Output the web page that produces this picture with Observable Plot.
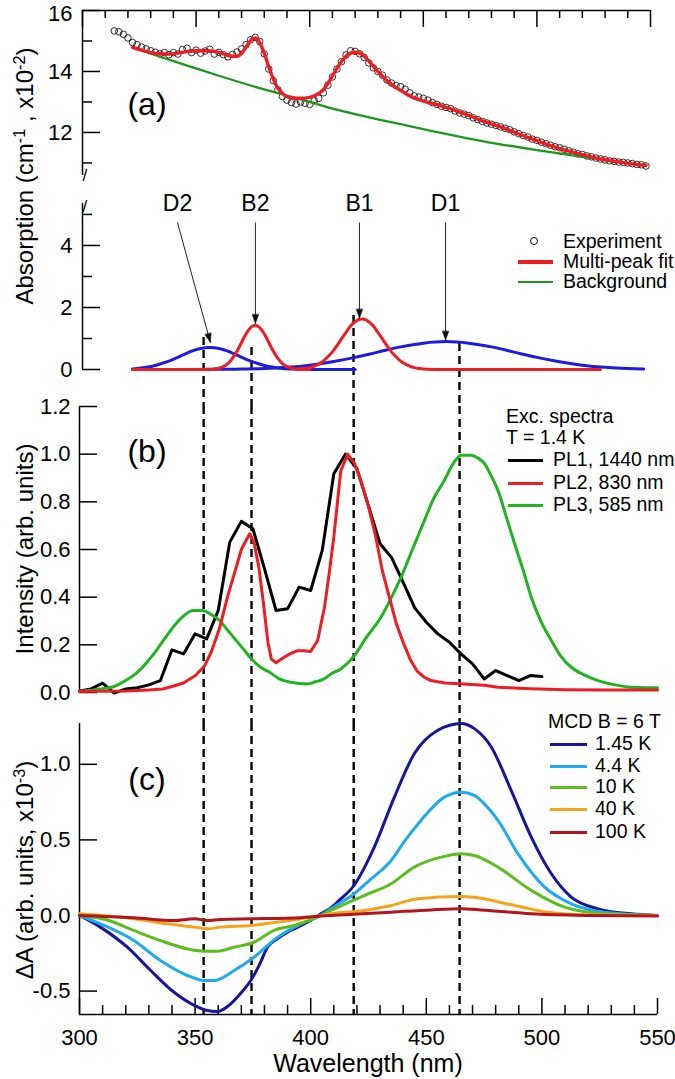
<!DOCTYPE html>
<html><head><meta charset="utf-8">
<script src="https://cdn.jsdelivr.net/npm/d3@7"></script>
<script src="https://cdn.jsdelivr.net/npm/@observablehq/plot@0.6"></script>
<style>
body{margin:0;background:#fff;font-family:"Liberation Sans",Arial,sans-serif;color:#000;}
#wrap{position:relative;width:675px;height:1079px;overflow:hidden;background:#fff;}
.t{position:absolute;line-height:1;white-space:nowrap;}
.sw{position:absolute;}
sup{font-size:0.68em;position:relative;top:-0.5em;line-height:0;vertical-align:baseline;}
</style></head><body><div id="wrap"></div>
<script>
// ---------- Panel (a): absorption ----------
const expWl = [314,316,318,320,322,324,326,328,330,332,334,336,338,340,342,344,346,348,350,352,354,356,358,360,362,364,366,368,370,372,374,376,378,380,382,384,386,388,390,392,394,396,398,400,402,404,406,408,410,412,414,416,418,420,422,424,426,428,430,432,434,436,438,440,442,444,446,448,450,452,454,456,458,460,462,464,466,468,470,472,474,476,478,480,482,484,486,488,490,492,494,496,498,500,502,504,506,508,510,512,514,516,518,520,522,524,526,528,530,532,534,536,538,540,542,544,546,548];
const expAbs = [15.33,15.30,15.22,15.10,14.95,14.88,14.80,14.74,14.68,14.63,14.58,14.62,14.55,14.62,14.57,14.72,14.76,14.62,14.70,14.60,14.67,14.73,14.57,14.63,14.55,14.48,14.56,14.64,14.74,14.88,15.04,15.12,14.98,14.58,14.08,13.70,13.40,13.18,13.06,12.98,12.93,13.00,12.96,12.92,13.04,13.12,13.30,13.55,13.82,14.08,14.32,14.54,14.68,14.66,14.58,14.46,14.28,14.12,14.00,13.88,13.72,13.62,13.54,13.50,13.42,13.30,13.20,13.16,13.12,13.06,12.98,12.92,12.86,12.82,12.78,12.70,12.64,12.60,12.55,12.48,12.42,12.36,12.31,12.27,12.23,12.18,12.14,12.09,12.02,11.96,11.90,11.85,11.78,11.74,11.68,11.63,11.58,11.53,11.50,11.45,11.40,11.35,11.30,11.28,11.23,11.20,11.16,11.13,11.10,11.07,11.05,11.03,11.02,11.00,10.98,10.95,10.94,10.90];
const fitWl = [322,326,330,334,338,342,346,350,354,358,362,366,368,370,372,374,376,378,380,382,384,386,388,390,392,396,400,404,406,408,410,412,414,416,418,420,422,424,426,428,430,432,434,436,438,440,444,448,452,456,460,464,468,472,476,480,484,488,492,496,500,504,508,512,516,520,524,528,532,536,540,544,548];
const fitAbs = [14.79,14.70,14.62,14.58,14.57,14.60,14.65,14.68,14.68,14.66,14.58,14.50,14.50,14.60,14.80,15.02,15.10,14.95,14.60,14.15,13.75,13.45,13.28,13.18,13.13,13.12,13.15,13.28,13.40,13.60,13.85,14.10,14.33,14.50,14.60,14.63,14.60,14.50,14.35,14.17,14.00,13.85,13.70,13.58,13.47,13.38,13.20,13.08,12.99,12.91,12.82,12.72,12.62,12.50,12.38,12.28,12.18,12.07,11.95,11.84,11.73,11.62,11.52,11.43,11.35,11.27,11.20,11.13,11.08,11.03,10.99,10.95,10.92];
const bgWl = [322,330,340,350,360,370,380,390,400,410,420,430,440,450,460,470,480,490,500,510,520,530,540,548];
const bgAbs = [14.79,14.59,14.34,14.10,13.86,13.63,13.41,13.21,13.00,12.78,12.60,12.43,12.27,12.11,11.95,11.80,11.66,11.54,11.42,11.31,11.20,11.10,11.00,10.92];
// peak components (lower part of panel a)
const d2Wl = [322,324,328,332,336,340,344,348,352,356,360,364,368,372,376,380,384,388,392,396,400,410,420];
const d2Abs = [0.02,0.03,0.07,0.13,0.22,0.33,0.46,0.59,0.68,0.71,0.68,0.59,0.46,0.33,0.22,0.13,0.07,0.03,0.016,0.006,0,0,0];
const d1Wl = [322,340,360,370,380,390,400,410,420,430,440,450,460,470,480,490,500,510,520,530,540,547];
const d1Abs = [0,0,0.005,0.014,0.03,0.07,0.14,0.25,0.39,0.56,0.73,0.85,0.90,0.85,0.73,0.56,0.39,0.25,0.14,0.07,0.03,0.016];
const b2Wl = [322,350,356,358,360,362,364,366,368,370,372,374,376,378,380,382,384,386,388,390,392,394,396,400];
const b2Abs = [0,0,0.01,0.02,0.04,0.09,0.19,0.36,0.59,0.87,1.15,1.35,1.43,1.35,1.15,0.87,0.59,0.36,0.19,0.09,0.04,0.02,0.01,0];
const b1Wl = [394,396,398,400,402,404,406,408,410,412,414,416,418,420,422,423,424,426,428,430,432,434,436,438,440,442,444,446,448,450,452,460,528];
const b1Abs = [0.01,0.02,0.03,0.06,0.11,0.18,0.27,0.41,0.57,0.77,0.99,1.20,1.40,1.54,1.62,1.63,1.62,1.54,1.40,1.20,0.99,0.77,0.57,0.41,0.27,0.18,0.11,0.06,0.03,0.02,0.01,0,0];
const peakNames = ["D2","B2","B1","D1"];
const peakLabelWl = [341.8,376.1,421.9,459.8];
const peakTipWl = [356.3,376.1,421.9,459.8];
const peakTipAbs = [0.87,1.48,1.65,0.94];
const dashAWl = [353.3,374.4,419.3,465.9];
const dashATop = [1.03,0.71,1.74,0.84];

// ---------- Panel (b): excitation spectra ----------
const pl1Wl = [300,305,310,315,320,325,330,335,340,345,350,355,360,365,370,375,380,385,390,395,400,405,410,415,420,425,430,435,440,445,450,455,460,465,470,475,480,485,490,495,500];
const pl1 = [0.006,0.015,0.039,-0.003,0.015,0.02,0.032,0.05,0.179,0.162,0.246,0.225,0.344,0.631,0.718,0.687,0.52,0.344,0.351,0.442,0.428,0.596,0.918,1.0,0.939,0.783,0.624,0.566,0.462,0.355,0.295,0.246,0.211,0.162,0.12,0.057,0.092,0.071,0.05,0.071,0.067];
const pl2Wl = [300,310,320,330,336,340,345,350,354,357,360.7,364,367.8,370,373.6,375.5,377.5,379.5,381.5,383,385,388,391,394,397,400,403,406,408,410,413,416,419,422,425,428,431,434,437,440,443,446,449,452,458,466,475,481,495,510,530,550];
const pl2 = [0.005,0.005,0.006,0.01,0.015,0.025,0.04,0.07,0.11,0.17,0.274,0.40,0.526,0.60,0.666,0.63,0.53,0.38,0.21,0.14,0.125,0.145,0.162,0.175,0.175,0.172,0.218,0.36,0.50,0.652,0.93,1.0,0.96,0.88,0.78,0.66,0.51,0.40,0.29,0.21,0.14,0.09,0.065,0.05,0.04,0.036,0.03,0.022,0.016,0.012,0.01,0.01];
const pl3Wl = [300,305,310,314,319,324.5,329,333.2,337.5,341.8,345.5,349,353,356.5,360.6,364,367.8,371.5,375,378.5,382.2,386.5,391.4,398.6,402,405.8,408.8,413,418.9,424,430.4,435,439.1,444,449.2,453,457.8,461,465.1,469.4,472,475.2,478,481,484.5,488.2,492,495.4,500,504.1,508,512.7,518,524.3,531,538.7,550];
const pl3 = [0.005,0.01,0.016,0.022,0.045,0.08,0.125,0.176,0.235,0.29,0.325,0.344,0.344,0.33,0.302,0.262,0.218,0.175,0.134,0.105,0.085,0.057,0.043,0.036,0.045,0.057,0.078,0.099,0.155,0.23,0.316,0.40,0.484,0.60,0.722,0.81,0.89,0.95,0.995,0.995,0.985,0.96,0.91,0.848,0.74,0.624,0.51,0.40,0.29,0.218,0.155,0.106,0.075,0.05,0.033,0.022,0.02];
const dashBCWl = [353.7,374.4,418.6,464.4];

// ---------- Panel (c): MCD ----------
const mcd145Wl = [300,309,320.7,330.8,340.9,349.8,355.3,359.7,365.4,370,374.1,378,381.3,385,390,394,398.6,404.4,408.7,413,418.8,423,427.5,436.2,444.8,455,465.1,470.8,478.1,486.7,495.4,504.1,512.7,524.3,538.7,550];
const mcd145 = [0,-0.077,-0.21,-0.364,-0.508,-0.596,-0.629,-0.635,-0.585,-0.51,-0.43,-0.32,-0.21,-0.16,-0.11,-0.08,-0.044,0.011,0.05,0.11,0.2,0.31,0.452,0.783,1.07,1.225,1.27,1.236,1.115,0.828,0.519,0.276,0.121,0.044,0.011,0];
const mcd44Wl = [300,309,323.5,335,346.7,353.9,358.2,366.9,375.5,385.7,395.8,404.4,408.7,418.8,426,434.8,441,447.7,457.8,465.1,470.8,475,481,489.6,501.2,512.7,527.2,550];
const mcd44 = [0,-0.055,-0.166,-0.298,-0.397,-0.43,-0.43,-0.364,-0.276,-0.144,-0.055,0,0.044,0.144,0.24,0.364,0.50,0.629,0.783,0.816,0.795,0.74,0.629,0.409,0.187,0.077,0.022,0];
const mcd10Wl = [300,312,323.5,335,346.7,353.9,359.7,366.9,375.5,384.2,392.9,404.4,408.7,423.1,434.8,444.8,456.4,465.1,470.8,481,495.4,509.8,527.2,550];
const mcd10 = [0,-0.03,-0.099,-0.166,-0.221,-0.236,-0.236,-0.21,-0.177,-0.099,-0.066,0,0.033,0.132,0.21,0.32,0.386,0.409,0.397,0.32,0.166,0.055,0.011,0];
const mcd40Wl = [300,323.5,338,349.8,355.3,360.9,374.1,385.7,395.8,404.4,408.7,423.1,434.8,446.3,465.1,470.8,488.2,502.6,520,550];
const mcd40 = [0.011,-0.022,-0.055,-0.077,-0.088,-0.077,-0.066,-0.044,-0.022,0,0.011,0.033,0.066,0.11,0.126,0.12,0.066,0.022,0.005,0];
const mcd100Wl = [300,323.5,340.9,349.8,355.3,360.9,374.1,395.8,404.4,408.7,434.8,452.1,465.1,473.7,495.4,520,550];
const mcd100 = [0,-0.015,-0.033,-0.022,-0.033,-0.026,-0.022,-0.015,-0.004,0,0.022,0.037,0.044,0.037,0.011,0,-0.004];

// ticks
const xMajor = [300,350,400,450,500,550];
const xMinor = [310,320,330,340,360,370,380,390,410,420,430,440,460,470,480,490,510,520,530,540];
const aUpMajor = [12,14,16], aUpMinor = [11,13,15];
const aLoMajor = [0,2,4], aLoMinor = [1,3,5];
const bTicks = [0,0.2,0.4,0.6,0.8,1.0,1.2];
const cTicks = [-0.5,0,0.5,1.0];

// ---------- drawing ----------
const pts = (xs, ys) => xs.map((x, i) => ({x, y: ys[i]}));
const wrap = document.getElementById("wrap");
const FONT = "'Liberation Sans', Arial, sans-serif";
const baseStyle = {background: "transparent", overflow: "visible", fontFamily: FONT, color: "black"};
const RED = "#ee1d23", GREEN_BG = "#1c961c", BLUE = "#1c1ce0";
const fmt1 = d => d.toFixed(1);
const fmt0 = d => String(d);
function place(svg, top) { svg.style.position = "absolute"; svg.style.left = "0px"; svg.style.top = top + "px"; wrap.appendChild(svg); }

const W = 675;
const fwA = W - 82 - 25, fwBC = W - 79 - 18;
const fhAU = 168, fhAL = 169, fhB = 286, fhC = 291;
const axisW = 1.5;

const headShape = {draw(ctx, l) { ctx.moveTo(-3.2, 0); ctx.lineTo(0, -l); ctx.lineTo(3.2, 0); ctx.closePath(); }};

// (a) upper
place(Plot.plot({
  width: W, height: 190, marginLeft: 82, marginRight: 25, marginTop: 10, marginBottom: 12,
  style: baseStyle,
  x: {domain: [300, 550], axis: null},
  y: {domain: [10.49, 16]},
  marks: [
    Plot.ruleY([16], {stroke: "black", strokeWidth: axisW}),
    Plot.ruleX([300], {stroke: "black", strokeWidth: axisW, insetBottom: 3}),
    Plot.tickX(xMajor, {x: d => d, insetBottom: fhAU - 17, strokeWidth: axisW}),
    Plot.tickX(xMinor, {x: d => d, insetBottom: fhAU - 8, strokeWidth: axisW}),
    Plot.tickY(aUpMajor, {y: d => d, insetRight: fwA - 18, strokeWidth: axisW}),
    Plot.tickY(aUpMinor, {y: d => d, insetRight: fwA - 10, strokeWidth: axisW}),
    Plot.axisY({ticks: aUpMajor.slice(0, 2), tickSize: 0, tickPadding: 10, fontSize: 22, label: null, tickFormat: fmt0}),
    Plot.axisY({ticks: aUpMajor.slice(2), tickSize: 0, tickPadding: 10, fontSize: 22, label: null, tickFormat: fmt0, dy: 3}),
    Plot.text(["/"], {frameAnchor: "bottom-left", text: d => d, fontSize: 17, dy: 2}),
    Plot.dot(pts(expWl, expAbs), {x: "x", y: "y", r: 3.3, stroke: "black", strokeWidth: 0.8, fill: "none"}),
    Plot.line(pts(bgWl, bgAbs), {x: "x", y: "y", stroke: GREEN_BG, strokeWidth: 2.3, curve: "monotone-x"}),
    Plot.line(pts(fitWl, fitAbs), {x: "x", y: "y", stroke: RED, strokeWidth: 3.4, curve: "monotone-x"})
  ]
}), 0);

// (a) lower
const arrows = peakNames.map((n, i) => ({n, lx: peakLabelWl[i], tx: peakTipWl[i], ty: peakTipAbs[i]}));
const arrowAngle = [164.7, 180, 180, 180];
place(Plot.plot({
  width: W, height: 216, marginLeft: 82, marginRight: 25, marginTop: 10, marginBottom: 37,
  style: baseStyle,
  x: {domain: [300, 550], axis: null},
  y: {domain: [0, 5.45]},
  marks: [
    Plot.ruleX([300], {stroke: "black", strokeWidth: axisW, insetTop: 3}),
    Plot.tickY(aLoMajor, {y: d => d, insetRight: fwA - 18, strokeWidth: axisW}),
    Plot.tickY(aLoMinor, {y: d => d, insetRight: fwA - 10, strokeWidth: axisW}),
    Plot.axisY({ticks: aLoMajor, tickSize: 0, tickPadding: 10, fontSize: 22, label: null, tickFormat: fmt0}),
    Plot.text(["/"], {frameAnchor: "top-left", text: d => d, fontSize: 17, dy: -1}),
    Plot.ruleX(pts(dashAWl, dashATop), {x: "x", y1: "y", y2: 0, insetBottom: -37, stroke: "black", strokeWidth: 2.4, strokeDasharray: "8,5"}),
    Plot.line(pts(d2Wl, d2Abs), {x: "x", y: "y", stroke: BLUE, strokeWidth: 3, curve: "monotone-x"}),
    Plot.line(pts(d1Wl, d1Abs), {x: "x", y: "y", stroke: BLUE, strokeWidth: 3, curve: "monotone-x"}),
    Plot.line(pts(b2Wl, b2Abs), {x: "x", y: "y", stroke: RED, strokeWidth: 3, curve: "monotone-x"}),
    Plot.line(pts(b1Wl, b1Abs), {x: "x", y: "y", stroke: RED, strokeWidth: 3, curve: "monotone-x"}),
    Plot.link(arrows, {x1: "lx", y1: 4.74, x2: "tx", y2: "ty", stroke: "#222", strokeWidth: 1}),
    Plot.vector(arrows, {x: "tx", y: "ty", rotate: (d, i) => arrowAngle[i], length: 9, anchor: "end", shape: headShape, fill: "#111", stroke: "#111", strokeWidth: 0.5}),
    Plot.text(arrows, {x: "lx", y: 5.35, text: "n", fontSize: 23})
  ]
}), 190);

// (b)
place(Plot.plot({
  width: W, height: 317, marginLeft: 79, marginRight: 18, marginTop: 10, marginBottom: 21,
  style: baseStyle,
  x: {domain: [300, 550], axis: null},
  y: {domain: [0, 1.2]},
  marks: [
    Plot.ruleX([300], {stroke: "black", strokeWidth: axisW}),
    Plot.tickY(bTicks, {y: d => d, insetRight: fwBC - 18, strokeWidth: axisW}),
    Plot.axisY({ticks: bTicks, tickSize: 0, tickPadding: 9, fontSize: 22, label: null, tickFormat: fmt1}),
    Plot.ruleX(dashBCWl, {x: d => d, insetBottom: -31, stroke: "black", strokeWidth: 2.4, strokeDasharray: "8,5"}),
    Plot.line(pts(pl1Wl, pl1), {x: "x", y: "y", stroke: "black", strokeWidth: 3}),
    Plot.line(pts(pl3Wl, pl3), {x: "x", y: "y", stroke: "#22b322", strokeWidth: 3, curve: "monotone-x"}),
    Plot.line(pts(pl2Wl, pl2), {x: "x", y: "y", stroke: RED, strokeWidth: 3})
  ]
}), 396);

// (c)
const cDom = [-0.655, 1.27];
place(Plot.plot({
  width: W, height: 366, marginLeft: 79, marginRight: 18, marginTop: 10, marginBottom: 65,
  style: baseStyle,
  x: {domain: [300, 550]},
  y: {domain: cDom},
  marks: [
    Plot.ruleX([300], {stroke: "black", strokeWidth: axisW}),
    Plot.ruleY([cDom[0]], {stroke: "black", strokeWidth: axisW}),
    Plot.tickY(cTicks, {y: d => d, insetRight: fwBC - 18, strokeWidth: axisW}),
    Plot.axisY({ticks: cTicks, tickSize: 0, tickPadding: 9, fontSize: 22, label: null, tickFormat: fmt1}),
    Plot.tickX(xMajor, {x: d => d, insetTop: fhC - 16, strokeWidth: axisW}),
    Plot.tickX(xMinor, {x: d => d, insetTop: fhC - 9, strokeWidth: axisW}),
    Plot.axisX({ticks: xMajor, tickSize: 0, tickPadding: 15, fontSize: 22, label: null, tickFormat: fmt0}),
    Plot.ruleX(dashBCWl, {x: d => d, stroke: "black", strokeWidth: 2.4, strokeDasharray: "8,5"}),
    Plot.line(pts(mcd145Wl, mcd145), {x: "x", y: "y", stroke: "#16169c", strokeWidth: 3, curve: "monotone-x"}),
    Plot.line(pts(mcd44Wl, mcd44), {x: "x", y: "y", stroke: "#1fa9ee", strokeWidth: 3, curve: "monotone-x"}),
    Plot.line(pts(mcd10Wl, mcd10), {x: "x", y: "y", stroke: "#5cbd1e", strokeWidth: 3, curve: "monotone-x"}),
    Plot.line(pts(mcd40Wl, mcd40), {x: "x", y: "y", stroke: "#f6a31c", strokeWidth: 3, curve: "monotone-x"}),
    Plot.line(pts(mcd100Wl, mcd100), {x: "x", y: "y", stroke: "#b3151d", strokeWidth: 3, curve: "monotone-x"})
  ]
}), 713);

// ---------- text: titles, panel labels, legends ----------
function text(html, x, cy, fs, extra = "") {
  const d = document.createElement("div");
  d.className = "t";
  d.innerHTML = html;
  d.style.cssText = `left:${x}px;top:${cy - fs / 2}px;font-size:${fs}px;${extra}`;
  wrap.appendChild(d);
  return d;
}
function ytitle(html, cx, cy, fs) {
  return text(html, cx, cy, fs, "transform:translate(-50%,0) rotate(-90deg);transform-origin:50% 50%;");
}
function swatch(x1, x2, cy, color, th) {
  const d = document.createElement("div");
  d.className = "sw";
  d.style.cssText = `left:${x1}px;top:${cy - th / 2}px;width:${x2 - x1}px;height:${th}px;background:${color};`;
  wrap.appendChild(d);
}
ytitle("Absorption (cm<sup>-1</sup> , x10<sup>-2</sup>)", 25, 176, 24);
ytitle("Intensity (arb. units)", 25, 549, 24);
ytitle("\u0394A (arb. units, x10<sup>-3</sup>)", 25, 870, 24);
text("Wavelength (nm)", 368, 1063, 25, "transform:translateX(-50%);");
text("(a)", 147, 104, 32, "transform:translateX(-50%);");
text("(b)", 147, 451, 32, "transform:translateX(-50%);");
text("(c)", 147, 779, 32, "transform:translateX(-50%);");

// legend (a)
{
  const c = document.createElement("div");
  c.className = "sw";
  c.style.cssText = "left:530px;top:237px;width:8px;height:8px;border:1px solid #000;border-radius:50%;box-sizing:border-box;";
  wrap.appendChild(c);
  text("Experiment", 563, 242, 19.5);
  swatch(518, 553, 262, RED, 3.4);
  text("Multi-peak fit", 563, 262, 19.5);
  swatch(518, 553, 282, GREEN_BG, 2.5);
  text("Background", 563, 282, 19.5);
}
// legend (b)
text("Exc. spectra", 506, 417, 19.5);
text("T = 1.4 K", 506, 438, 19.5);
swatch(508, 543, 460, "#000", 3);
text("PL1, 1440 nm", 553, 460, 19.5);
swatch(508, 543, 483, RED, 3);
text("PL2, 830 nm", 553, 483, 19.5);
swatch(508, 543, 505, "#22b322", 3);
text("PL3, 585 nm", 553, 505, 19.5);
// legend (c)
text("MCD B = 6 T", 548, 722, 19.5);
const mcdNames = ["1.45 K", "4.4 K", "10 K", "40 K", "100 K"];
const mcdColors = ["#16169c", "#1fa9ee", "#5cbd1e", "#f6a31c", "#b3151d"];
const mcdRows = [744, 766, 787, 809, 832];
mcdNames.forEach((n, i) => { swatch(550, 587, mcdRows[i], mcdColors[i], 3); text(n, 595, mcdRows[i], 19.5); });
</script>
</body></html>
